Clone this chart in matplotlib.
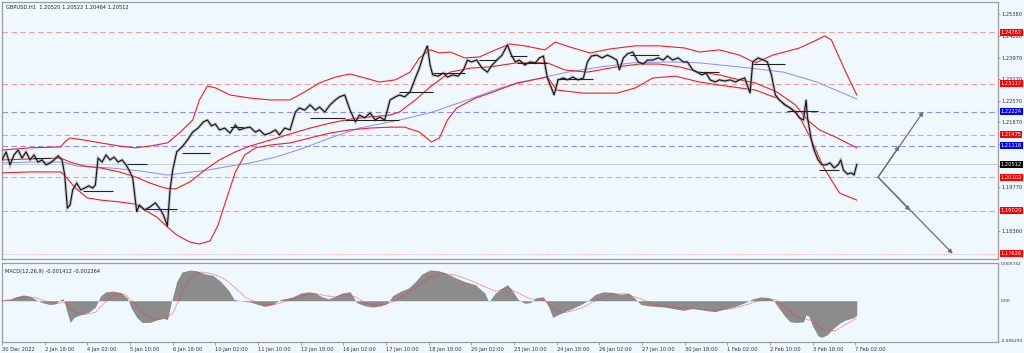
import matplotlib
matplotlib.use("Agg")
import matplotlib.pyplot as plt
import matplotlib.transforms as mtransforms

# ---- price data (H1 bars since 30 Dec 2022) ----
bars = [0, 3, 6, 9, 12, 15, 18, 21, 24, 27, 30, 33, 36, 39, 42, 45,
        47, 49, 51, 53, 56, 59, 62, 65, 68, 70,
        72, 75, 78, 81, 84, 87, 90, 93, 96, 98,
        101, 103, 107, 111, 115, 118, 121, 124, 126, 128,
        131, 135, 139, 143, 147, 151, 154, 157, 160, 163,
        167, 171, 175, 178, 182, 186, 190, 193, 197, 201,
        205, 208, 212, 216, 220, 223, 227, 231, 235, 238,
        242, 246, 250, 253, 257, 261, 265, 268, 272, 276,
        280, 283, 287, 291, 295, 298, 302, 306, 310, 313,
        316, 319, 321, 323, 327, 331, 334, 338, 342, 346,
        349, 352, 356, 360, 364, 367, 371, 375, 379, 382,
        385, 388, 392, 396, 400, 403, 406, 409, 412, 414,
        417, 421, 424, 428, 432, 436, 439, 442, 446, 450,
        454, 457, 461, 463, 466, 469, 473, 477, 481, 484,
        488, 492, 496, 499, 503, 507, 511, 514, 518, 521,
        525, 528, 531, 535, 538, 542, 546, 550, 553, 557,
        561, 563, 567, 571, 574, 577, 580, 583, 587, 591,
        595, 598, 601, 603, 604, 607, 609, 612, 615, 618,
        621, 624, 627, 629, 631, 634, 637, 639, 641]
closes = [1.2066, 1.2092, 1.2050, 1.2082, 1.2098, 1.2072, 1.2092, 1.2066, 1.2082, 1.2059, 1.2066, 1.2050, 1.2056, 1.2066, 1.2079, 1.2066,
          1.2017, 1.1910, 1.1920, 1.1969, 1.1991, 1.1969, 1.1975, 1.1982, 1.1975, 1.1985,
          1.2072, 1.2059, 1.2082, 1.2066, 1.2075, 1.2059, 1.2066, 1.2050, 1.2027, 1.2008,
          1.1898, 1.1920, 1.1904, 1.1914, 1.1927, 1.1910, 1.1888, 1.1852, 1.1969, 1.2033,
          1.2092, 1.2108, 1.2130, 1.2156, 1.2169, 1.2189, 1.2195, 1.2176, 1.2182, 1.2163,
          1.2169, 1.2153, 1.2179, 1.2163, 1.2169, 1.2172, 1.2156, 1.2163, 1.2147, 1.2153,
          1.2163, 1.2147, 1.2169, 1.2163, 1.2221, 1.2234, 1.2227, 1.2244, 1.2227, 1.2237,
          1.2221, 1.2244, 1.2260, 1.2270, 1.2276, 1.2227, 1.2189, 1.2211, 1.2202, 1.2218,
          1.2195, 1.2205, 1.2195, 1.2260, 1.2270, 1.2276, 1.2270, 1.2286, 1.2331, 1.2363,
          1.2405, 1.2435, 1.2373, 1.2341, 1.2337, 1.2347, 1.2334, 1.2341, 1.2337, 1.2357,
          1.2389, 1.2383, 1.2389, 1.2363, 1.2350, 1.2370, 1.2389, 1.2405, 1.2438, 1.2405,
          1.2383, 1.2389, 1.2373, 1.2383, 1.2380, 1.2396, 1.2402, 1.2331, 1.2299, 1.2276,
          1.2325, 1.2331, 1.2325, 1.2334, 1.2325, 1.2331, 1.2383, 1.2402, 1.2405, 1.2396,
          1.2405, 1.2399, 1.2389, 1.2357, 1.2396, 1.2409, 1.2415, 1.2383, 1.2376, 1.2389,
          1.2389, 1.2396, 1.2389, 1.2402, 1.2389, 1.2396, 1.2383, 1.2383, 1.2357, 1.2350,
          1.2341, 1.2347, 1.2325, 1.2318, 1.2325, 1.2321, 1.2325, 1.2318, 1.2325, 1.2331,
          1.2282, 1.2383, 1.2396, 1.2389, 1.2383, 1.2341, 1.2276, 1.2260, 1.2244, 1.2234,
          1.2221, 1.2202, 1.2195, 1.2260, 1.2205, 1.2130, 1.2098, 1.2066, 1.2050, 1.2050,
          1.2056, 1.2040, 1.2050, 1.2066, 1.2033, 1.2020, 1.2024, 1.2017, 1.2051]

# ---- bollinger bands + moving average ----
upper_bars = [0, 21, 44, 47, 51, 62, 74, 88, 100, 111, 124, 133, 143, 148, 154, 160, 171, 186, 201, 216,
              227, 238, 250, 261, 272, 283, 295, 306, 313, 321, 328, 336, 347, 358, 370, 381, 392, 407, 415, 426,
              441, 456, 475, 493, 512, 523, 538, 553, 565, 578, 598, 611, 617, 622, 632, 641]
upper = [1.2098, 1.2105, 1.2108, 1.2124, 1.2137, 1.2130, 1.2121, 1.2111, 1.2105, 1.2111, 1.2121, 1.2153, 1.2195, 1.2260, 1.2305, 1.2299, 1.2276, 1.2266, 1.2260, 1.2260,
         1.2286, 1.2315, 1.2334, 1.2344, 1.2331, 1.2318, 1.2325, 1.2350, 1.2396, 1.2422, 1.2412, 1.2415, 1.2396, 1.2399, 1.2422, 1.2441, 1.2435, 1.2422, 1.2447, 1.2431,
         1.2412, 1.2425, 1.2435, 1.2435, 1.2428, 1.2415, 1.2422, 1.2405, 1.2380, 1.2405, 1.2428, 1.2454, 1.2467, 1.2454, 1.2357, 1.2276]

mid_bars = [0, 21, 44, 51, 62, 74, 88, 100, 111, 122, 130, 141, 152, 163, 175, 186, 201, 216, 231, 246,
            261, 276, 291, 298, 310, 321, 336, 351, 366, 386, 409, 422, 439, 461, 478, 493, 508, 523, 538, 553,
            565, 581, 595, 604, 613, 625, 641]
middle = [1.2066, 1.2069, 1.2072, 1.2059, 1.2046, 1.2040, 1.2027, 1.2011, 1.1991, 1.1975, 1.1972, 1.1995, 1.2033, 1.2066, 1.2092, 1.2111, 1.2130, 1.2150, 1.2169, 1.2185,
          1.2198, 1.2205, 1.2211, 1.2221, 1.2260, 1.2302, 1.2350, 1.2363, 1.2367, 1.2380, 1.2380, 1.2357, 1.2350, 1.2367, 1.2376, 1.2376, 1.2367, 1.2350, 1.2341, 1.2325,
          1.2315, 1.2286, 1.2244, 1.2195, 1.2163, 1.2140, 1.2105]

lower_bars = [0, 21, 44, 48, 55, 64, 74, 88, 100, 107, 116, 124, 131, 141, 148, 156, 162, 168, 175, 182,
              190, 201, 216, 231, 246, 261, 276, 291, 302, 313, 322, 328, 334, 341, 355, 366, 386, 409, 416, 436,
              461, 475, 488, 505, 523, 538, 553, 565, 581, 591, 598, 606, 616, 628, 641]
lower = [1.2024, 1.2027, 1.2027, 1.2011, 1.1975, 1.1943, 1.1936, 1.1930, 1.1923, 1.1904, 1.1881, 1.1849, 1.1823, 1.1800, 1.1794, 1.1804, 1.1855, 1.1936, 1.2027, 1.2082,
         1.2105, 1.2114, 1.2121, 1.2137, 1.2153, 1.2163, 1.2169, 1.2172, 1.2172, 1.2156, 1.2124, 1.2137, 1.2195, 1.2234, 1.2266, 1.2282, 1.2315, 1.2334, 1.2292, 1.2282,
         1.2282, 1.2299, 1.2331, 1.2337, 1.2318, 1.2308, 1.2299, 1.2292, 1.2266, 1.2234, 1.2205, 1.2140, 1.2043, 1.1959, 1.1936]

ma_bars = [0, 21, 46, 56, 81, 104, 124, 137, 154, 171, 186, 205, 224, 246, 268, 298, 323, 349, 374, 398,
           424, 449, 473, 501, 523, 561, 586, 611, 641]
ma = [1.2056, 1.2059, 1.2059, 1.2046, 1.2040, 1.2030, 1.2017, 1.2024, 1.2033, 1.2046, 1.2056, 1.2075, 1.2101, 1.2137, 1.2169, 1.2195, 1.2221, 1.2260, 1.2299, 1.2325,
      1.2350, 1.2367, 1.2380, 1.2383, 1.2380, 1.2363, 1.2350, 1.2318, 1.2263]

# short black level segments (start bar, end bar, price)
seg_start = [23, 61, 94, 106, 135, 171, 231, 257, 298, 323, 358, 381, 386, 416, 471, 523, 563, 589, 613]
seg_end = [36, 83, 109, 131, 156, 181, 257, 298, 323, 347, 371, 394, 409, 443, 493, 538, 587, 612, 628]
seg_price = [1.2072, 1.1965, 1.2053, 1.1907, 1.2088, 1.2172, 1.2202, 1.2195, 1.2286, 1.2347, 1.2389, 1.2402, 1.2380, 1.2328, 1.2405, 1.2350, 1.2376, 1.2224, 1.2033]

# horizontal levels
red_levels = [1.24782, 1.23117, 1.21475, 1.20102, 1.19020]
blue_levels = [1.22224, 1.21118]
target_low = 1.17626
last_price = 1.20512

# projection arrows (bar, price)
arrow_origin = (657, 1.20102)
arrow_up = [(673, 1.21118), (691, 1.22224)]
arrow_down = [(681, 1.19020), (713, 1.17626)]

# ---- MACD ----
macd_bars = [0, 6, 10, 16, 21, 26, 30, 36, 40, 44, 46, 48, 51, 54, 59, 65, 70, 74, 78, 83,
             89, 94, 97, 101, 105, 111, 116, 121, 124, 127, 131, 135, 141, 146, 152, 158, 164, 170, 174, 181,
             186, 192, 197, 203, 209, 214, 218, 224, 230, 235, 240, 245, 250, 255, 261, 266, 272, 278, 284, 289,
             293, 299, 305, 310, 315, 321, 327, 332, 340, 347, 355, 362, 365, 370, 375, 379, 383, 387, 392, 396,
             401, 406, 410, 413, 417, 422, 428, 434, 440, 445, 451, 458, 464, 470, 475, 479, 485, 491, 497, 505,
             511, 518, 524, 530, 535, 540, 546, 551, 557, 563, 569, 575, 578, 582, 587, 591, 596, 601, 603, 605,
             608, 612, 615, 619, 623, 629, 633, 638, 641]
macd_hist = [0.0001, 0.0002, 0.0006, 0.0009, 0.0007, 0.0001, -0.0003, -0.0006, -0.0005, 0.0002, 0.0003, -0.0012, -0.0034, -0.0026, -0.0022, -0.0018, -0.0010, 0.0008, 0.0014, 0.0015,
             0.0013, 0.0004, -0.0012, -0.0026, -0.0034, -0.0034, -0.0030, -0.0027, -0.0030, -0.0002, 0.0030, 0.0045, 0.0048, 0.0047, 0.0042, 0.0040, 0.0030, 0.0016, 0.0002, -0.0001,
             -0.0002, -0.0006, -0.0009, -0.0006, 0.0002, 0.0004, 0.0006, 0.0012, 0.0014, 0.0012, 0.0006, 0.0003, 0.0007, 0.0012, 0.0014, -0.0003, -0.0008, -0.0010, -0.0008, -0.0004,
             0.0008, 0.0015, 0.0020, 0.0030, 0.0042, 0.0048, 0.0047, 0.0044, 0.0036, 0.0030, 0.0025, 0.0012, -0.0002, 0.0012, 0.0020, 0.0025, 0.0015, 0.0002, -0.0004, -0.0003,
             0.0005, 0.0006, -0.0010, -0.0026, -0.0022, -0.0017, -0.0012, -0.0006, 0.0001, 0.0010, 0.0014, 0.0013, 0.0010, 0.0012, 0.0003, -0.0006, -0.0008, -0.0009, -0.0010, -0.0013,
             -0.0015, -0.0012, -0.0014, -0.0016, -0.0017, -0.0014, -0.0011, -0.0008, -0.0003, 0.0003, 0.0006, 0.0005, 0.0002, -0.0010, -0.0024, -0.0033, -0.0034, -0.0033, -0.0022, -0.0024,
             -0.0040, -0.0055, -0.0057, -0.0053, -0.0044, -0.0034, -0.0030, -0.0027, -0.0023]

signal_bars = [0, 10, 17, 25, 32, 40, 47, 55, 62, 70, 77, 85, 92, 100, 107, 115, 122, 128, 134, 141,
               149, 158, 167, 175, 182, 190, 197, 205, 212, 220, 227, 235, 242, 250, 257, 265, 272, 280, 287, 295,
               302, 310, 320, 329, 340, 351, 362, 370, 380, 387, 396, 407, 415, 422, 434, 445, 456, 467, 479, 490,
               505, 520, 535, 546, 557, 569, 580, 590, 599, 608, 615, 625, 632, 641]
macd_signal = [0.0000, 0.0003, 0.0006, 0.0005, 0.0000, -0.0004, -0.0003, -0.0018, -0.0022, -0.0018, -0.0003, 0.0010, 0.0010, -0.0005, -0.0022, -0.0030, -0.0028, -0.0020, 0.0008, 0.0035,
               0.0045, 0.0042, 0.0034, 0.0020, 0.0006, -0.0002, -0.0006, -0.0006, -0.0001, 0.0004, 0.0009, 0.0011, 0.0008, 0.0006, 0.0010, 0.0006, -0.0003, -0.0007, -0.0006, 0.0000,
               0.0010, 0.0020, 0.0035, 0.0043, 0.0040, 0.0032, 0.0022, 0.0015, 0.0020, 0.0012, 0.0003, 0.0000, -0.0015, -0.0019, -0.0012, 0.0000, 0.0010, 0.0011, 0.0003, -0.0006,
               -0.0010, -0.0013, -0.0015, -0.0013, -0.0007, 0.0001, 0.0002, -0.0015, -0.0028, -0.0031, -0.0045, -0.0047, -0.0038, -0.0027]

price_ticks = [1.25380, 1.24680, 1.23970, 1.23270, 1.22570, 1.21870, 1.21170, 1.20470, 1.19770, 1.19060, 1.18360]
macd_ticks = [0.005742, 0.0, -0.006293]
macd_tick_labels = ["0.005742", "0.00", "-0.006293"]
time_ticks = list(range(0, 641, 32))
time_labels = ["30 Dec 2022", "2 Jan 18:00", "4 Jan 02:00", "5 Jan 10:00", "6 Jan 18:00", "10 Jan 02:00",
               "11 Jan 10:00", "12 Jan 18:00", "16 Jan 02:00", "17 Jan 10:00", "18 Jan 18:00", "20 Jan 02:00",
               "23 Jan 10:00", "24 Jan 18:00", "26 Jan 02:00", "27 Jan 10:00", "30 Jan 18:00", "1 Feb 02:00",
               "2 Feb 10:00", "3 Feb 18:00", "7 Feb 02:00"]

assert len(bars) == len(closes)
assert len(macd_bars) == len(macd_hist)
assert len(signal_bars) == len(macd_signal)

BG = "#f0f8ff"
FRAME = "#9c9c9c"
FS = 3.7

fig = plt.figure(figsize=(10.24, 3.53), dpi=100, facecolor=BG)
ax = fig.add_axes([0.002, 0.2663, 0.9727, 0.7280], facecolor=BG)
axm = fig.add_axes([0.002, 0.0312, 0.9727, 0.2238], facecolor=BG)

for a in (ax, axm):
    for s in a.spines.values():
        s.set_color(FRAME)
        s.set_linewidth(0.9)
    a.set_xlim(0, 747)
    a.yaxis.tick_right()
    a.tick_params(axis="y", which="both", length=1.5, width=0.5, color="#808080",
                  labelsize=FS, labelcolor="#333333", pad=1)
axm.tick_params(axis="y", labelsize=3.2, pad=0.6, length=1)

# levels
for lv in red_levels:
    ax.axhline(lv, color="#ff9a9a", lw=0.8, ls=(0, (5, 3)), zorder=1)
for lv in blue_levels:
    ax.axhline(lv, color="#8c8cff", lw=0.8, ls=(0, (5, 3)), zorder=1)
ax.axhline(target_low, color="#ff9a9a", lw=0.6, ls=(0, (1, 1.5)), zorder=1)
ax.axhline(last_price, color="#c8c8c8", lw=0.6, zorder=1)

# indicators
ax.plot(ma_bars, ma, color="#8a8aff", lw=0.7, zorder=2)
ax.plot(upper_bars, upper, color="#ff1a1a", lw=0.8, zorder=3)
ax.plot(mid_bars, middle, color="#ff1a1a", lw=0.8, zorder=3)
ax.plot(lower_bars, lower, color="#ff1a1a", lw=0.8, zorder=3)

# price
ax.plot(bars, closes, color="#9a9a9a", lw=2.2, alpha=0.55, zorder=4, solid_joinstyle="miter")
ax.plot(bars, closes, color="#111111", lw=0.8, zorder=5)
ax.hlines(seg_price, seg_start, seg_end, color="#222222", lw=0.8, zorder=5)

# arrows
arrow_kw = dict(arrowstyle="-|>", color="#6e6e6e", lw=0.9, mutation_scale=6, shrinkA=0, shrinkB=0)
for tgt in arrow_up + arrow_down:
    ax.annotate("", xy=tgt, xytext=arrow_origin, arrowprops=arrow_kw, zorder=6)

ax.set_ylim(1.17454, 1.25768)
ax.set_yticks(price_ticks)
ax.set_yticklabels([f"{t:.5f}" for t in price_ticks])
ax.set_xticks([])

# colored level tags on the price scale
trans = mtransforms.blended_transform_factory(ax.transAxes, ax.transData)
tags = [(lv, "#ff0000") for lv in red_levels] + [(lv, "#0000ff") for lv in blue_levels]
tags += [(target_low, "#ff0000"), (last_price, "#000000")]
for lv, col in tags:
    ax.text(1.0025, lv, f"{lv:.5f}", transform=trans, fontsize=FS, color="white",
            va="center", ha="left", clip_on=False, zorder=10,
            bbox=dict(boxstyle="square,pad=0.2", fc=col, ec=col, lw=0))

ax.text(0.004, 0.988, "GBPUSD,H1  1.20520 1.20522 1.20464 1.20512", transform=ax.transAxes,
        fontsize=FS, color="#222222", va="top", ha="left")

# MACD panel
axm.fill_between(macd_bars, macd_hist, 0, color="#8c8c8c", lw=0, zorder=2)
axm.plot(signal_bars, macd_signal, color="#ff3030", lw=0.6, ls=(0, (1, 1)), zorder=3)
axm.set_ylim(-0.00645, 0.0059)
axm.set_yticks(macd_ticks)
axm.set_yticklabels(macd_tick_labels)
axm.set_xticks(time_ticks)
axm.set_xticklabels(time_labels, ha="left")
axm.tick_params(axis="x", length=2.5, width=0.5, color="#808080", labelsize=FS,
                labelcolor="#333333", pad=1)
axm.text(0.003, 0.93, "MACD(12,26,9) -0.001412 -0.002264", transform=axm.transAxes,
         fontsize=FS, color="#222222", va="top", ha="left")

fig.savefig("out.png", dpi=100, facecolor=BG)
